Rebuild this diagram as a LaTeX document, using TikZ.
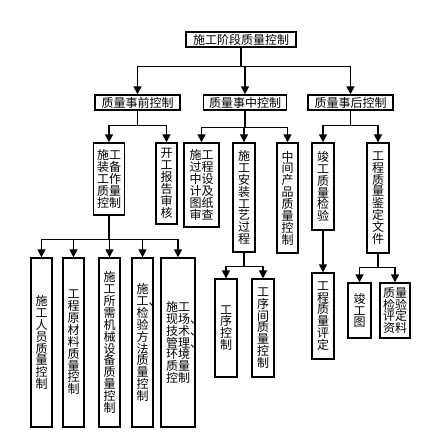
\documentclass[tikz,border=0pt]{standalone}
\usepackage{fontspec}
\newfontfamily\cjk{Noto Sans CJK SC}
\usetikzlibrary{arrows.meta}

\begin{document}
\begin{tikzpicture}[x=0.75pt,y=0.75pt,yscale=-1,xscale=1,
  box/.style={draw, line width=1pt, inner sep=1pt, align=center, font=\cjk\fontsize{9}{8.9}\selectfont},
  arr/.style={line width=1pt, -{Triangle[length=6pt,width=6pt]}}]
\useasboundingbox (0,0) rectangle (430,434);

%Shape: Rectangle, level 1
\node[box, minimum width=82.5pt, minimum height=11.25pt] (stage) at (241,39.5) {施工阶段质量控制};

%Shape: Rectangle, level 2
\node[box, minimum width=63.75pt, minimum height=11.25pt] (pre) at (137.5,102.5) {质量事前控制};
\node[box, minimum width=62.25pt, minimum height=11.25pt] (mid) at (245,102.5) {质量事中控制};
\node[box, minimum width=63.75pt, minimum height=11.25pt] (post) at (350.5,102.5) {质量事后控制};

%Shape: Rectangle, level 3
\node[box, minimum width=23.25pt, minimum height=54pt] (prep) at (109,179) {施工\\装备\\工作\\质量\\控制};
\node[box, minimum width=15.75pt, minimum height=60.75pt] (report) at (166.5,183.5) {开\\工\\报\\告\\审\\核};
\node[box, minimum width=26.25pt, minimum height=63pt] (design) at (201.5,185) {施工\\过程\\中设\\计及\\图纸\\审查};
\node[box, minimum width=16.5pt, minimum height=81.75pt] (install) at (244,197.5) {施\\工\\安\\装\\工\\艺\\过\\程};
\node[box, minimum width=15.75pt, minimum height=82.5pt] (inter) at (287.5,198) {中\\间\\产\\品\\质\\量\\控\\制};
\node[box, minimum width=16.5pt, minimum height=65.25pt] (finish) at (323,186.5) {竣\\工\\质\\量\\检\\验};
\node[box, minimum width=16.5pt, minimum height=82.5pt] (docs) at (378,198) {工\\程\\质\\量\\鉴\\定\\文\\件};

%Shape: Rectangle, level 4
\node[box, minimum width=15.75pt, minimum height=126.75pt] (staff) at (41.5,342.5) {施\\工\\人\\员\\质\\量\\控\\制};
\node[box, minimum width=15.75pt, minimum height=126.75pt] (material) at (73.5,342.5) {工\\程\\原\\材\\料\\质\\量\\控\\制};
\node[box, minimum width=15.75pt, minimum height=126.75pt] (machine) at (109.5,342.5) {施\\工\\所\\需\\机\\械\\设\\备\\质\\量\\控\\制};
\node[box, minimum width=15.75pt, minimum height=126.75pt] (method) at (142.5,342.5) {施\\工\rlap{、}\\检\\验\\方\\法\\质\\量\\控\\制};
\node[box, minimum width=25.5pt, minimum height=126.75pt] (site) at (178,342.5) {施工\\现场\rlap{、}\\技术\rlap{、}\\管理\rlap{、}\\环境\\质量\\控制};
\node[box, minimum width=16.5pt, minimum height=73.5pt] (proc) at (226,328) {工\\序\\控\\制};
\node[box, minimum width=16.5pt, minimum height=73.5pt] (between) at (263,328) {工\\序\\间\\质\\量\\控\\制};
\node[box, minimum width=16.5pt, minimum height=64.5pt] (rating) at (323,316) {工\\程\\质\\量\\评\\定};
\node[box, minimum width=17.25pt, minimum height=41.25pt] (drawing) at (359.5,310.5) {竣\\工\\图};
\node[box, minimum width=22.5pt, minimum height=41.25pt] (records) at (395,310.5) {质量\\检验\\评定\\资料};

%Straight Lines
\foreach \n in {pre,mid,post} \draw[arr] (stage.south) -- ++(0,19) -| (\n.north);
\foreach \n in {prep,report} \draw[arr] (pre.south) -- ++(0,15) -| (\n.north);
\foreach \n in {design,install,inter} \draw[arr] (mid.south) -- ++(0,17) -| (\n.north);
\foreach \n in {finish,docs} \draw[arr] (post.south) -- ++(0,15) -| (\n.north);
\foreach \n in {staff,material,machine,method,site} \draw[arr] (prep.south) -- ++(0,24) -| (\n.north);
\foreach \n in {proc,between} \draw[arr] (install.south) -- ++(0,14) -| (\n.north);
\draw[arr] (finish.south) -- (rating.north);
\foreach \n in {drawing,records} \draw[arr] (docs.south) -- ++(0,14) -| (\n.north);

\end{tikzpicture}
\end{document}
